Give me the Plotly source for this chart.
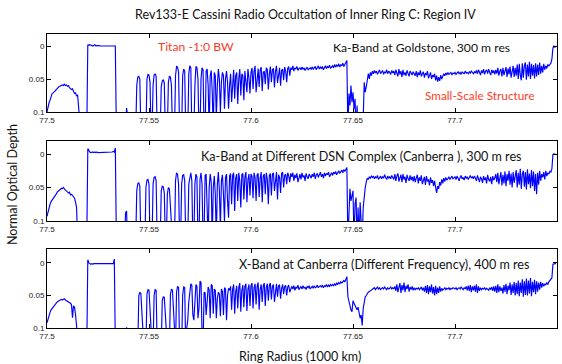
import plotly.graph_objects as go

# ---------------- data (normal optical depth in units of 0.001, sampled every 0.5 km) ----------------
RADIUS_START = 77.5      # 1000 km
RADIUS_STEP = 0.0005     # 1000 km
CLIP = 130               # below the plotted range (signal lost)

tau_ka_goldstone = [
    100, 92, 86, 82, 76, 72, 71, 70, 68, 66, 64, 62, 61, 61, 60, 59, 60, 58, 60, 59,
    61, 60, 63, 64, 66, 65, 70, 72, 71, 76, 74, 130, 130, 130, 130, 130, 130, 130, 130, 130,
    -2, -1, -2, -1, -1, 0, -1, -2, 0, -1, 0, -1, 0, 0, -1, 0, -1, 0, -1, 0,
    0, -1, 0, 0, 0, -1, 0, 0, 130, 130, 130, 130, 130, 130, 130, 130, 130, 130, 94, 130,
    130, 130, 130, 130, 130, 130, 130, 130, 60, 47, 46, 50, 130, 130, 130, 130, 130, 130, 50, 43,
    44, 55, 130, 130, 60, 44, 42, 46, 130, 130, 130, 130, 62, 53, 51, 56, 130, 130, 130, 55,
    46, 47, 60, 130, 130, 130, 45, 31, 32, 40, 130, 130, 130, 45, 35, 38, 130, 130, 130, 42,
    30, 33, 130, 130, 130, 60, 31, 33, 50, 130, 130, 50, 33, 36, 130, 130, 38, 35, 60, 130,
    45, 37, 70, 130, 40, 45, 110, 60, 35, 50, 100, 55, 40, 45, 95, 50, 38, 55, 95, 60,
    42, 85, 48, 36, 80, 45, 40, 88, 50, 35, 75, 42, 45, 82, 38, 60, 70, 35, 48, 72,
    40, 33, 65, 38, 30, 70, 45, 34, 62, 36, 32, 68, 40, 38, 58, 33, 36, 66, 42, 31,
    55, 36, 34, 63, 38, 30, 56, 40, 33, 60, 37, 35, 52, 32, 38, 55, 34, 31, 45, 33,
    36, 30, 38, 33, 35, 31, 37, 34, 33, 36, 32, 35, 33, 37, 34, 32, 36, 34, 33, 35,
    32, 35, 33, 31, 36, 33, 30, 35, 32, 34, 31, 36, 32, 30, 34, 31, 33, 29, 34, 31,
    30, 33, 28, 32, 29, 31, 27, 32, 28, 30, 26, 31, 27, 25, 22, 130, 72, 90, 60, 85,
    70, 95, 80, 130, 90, 130, 130, 100, 130, 130, 110, 55, 70, 62, 48, 42, 50, 40, 45, 38,
    42, 37, 41, 38, 43, 39, 36, 42, 40, 37, 43, 39, 41, 36, 42, 38, 40, 43, 37, 41,
    38, 44, 36, 42, 46, 35, 43, 38, 47, 36, 44, 40, 45, 37, 42, 46, 38, 41, 44, 39,
    42, 45, 38, 47, 40, 44, 37, 46, 42, 39, 48, 41, 44, 38, 49, 43, 40, 50, 44, 47,
    42, 52, 45, 54, 47, 53, 44, 50, 46, 42, 45, 41, 44, 40, 43, 42, 40, 44, 41, 42,
    40, 43, 41, 39, 42, 40, 43, 39, 41, 42, 38, 41, 40, 42, 39, 41, 38, 40, 42, 39,
    41, 37, 42, 36, 40, 44, 37, 41, 35, 43, 38, 36, 42, 35, 40, 44, 36, 41, 37, 43,
    36, 42, 33, 45, 38, 35, 46, 33, 44, 37, 32, 47, 34, 43, 31, 48, 35, 30, 47, 33,
    45, 28, 50, 27, 44, 52, 26, 48, 30, 25, 51, 28, 46, 24, 50, 27, 45, 29, 49, 26,
    46, 28, 44, 25, 42, 30, 40, 27, 36, 30, 34, 28, 30, 27, 26, 20, 3, 0, 2, 0,
]

tau_ka_canberra = [
    93, 86, 80, 75, 71, 69, 66, 64, 62, 60, 57, 56, 54, 53, 51, 52, 50, 53, 54, 55,
    56, 58, 57, 61, 60, 62, 64, 66, 72, 80, 130, 130, 130, 130, 130, 130, 130, 130, 130, 130,
    -8, -4, -3, -2, -3, -3, -2, -3, -2, -3, -2, -2, -3, -2, -3, -2, -3, -2, -2, -3,
    -3, -2, -3, -2, -3, -4, -3, -9, 130, 130, 130, 130, 130, 130, 130, 130, 130, 88, 85, 130,
    130, 130, 130, 130, 130, 130, 130, 130, 55, 44, 43, 48, 130, 130, 130, 130, 130, 50, 39, 38,
    45, 130, 130, 130, 45, 35, 34, 40, 130, 130, 130, 130, 55, 48, 49, 58, 130, 130, 60, 50,
    52, 130, 130, 130, 130, 130, 40, 28, 30, 45, 130, 130, 45, 32, 31, 40, 130, 130, 130, 45,
    35, 28, 40, 130, 130, 45, 30, 34, 130, 130, 38, 28, 45, 130, 120, 32, 30, 70, 130, 50,
    30, 42, 130, 50, 33, 60, 130, 45, 27, 55, 110, 40, 31, 60, 100, 35, 30, 70, 95, 33,
    29, 75, 32, 28, 85, 36, 30, 70, 28, 40, 80, 31, 29, 68, 34, 27, 72, 38, 30, 62,
    30, 33, 66, 28, 35, 70, 31, 29, 64, 36, 27, 72, 33, 30, 60, 28, 38, 75, 32, 29,
    62, 30, 28, 55, 33, 27, 68, 31, 35, 58, 29, 27, 50, 32, 30, 45, 28, 33, 42, 29,
    34, 28, 40, 31, 36, 29, 42, 33, 30, 38, 28, 35, 32, 40, 29, 34, 37, 30, 33, 36,
    30, 34, 28, 37, 31, 29, 35, 32, 27, 34, 30, 36, 28, 33, 29, 31, 27, 34, 30, 28,
    32, 27, 30, 26, 31, 28, 25, 29, 26, 24, 28, 23, 26, 22, 20, 130, 100, 52, 70, 60,
    55, 130, 75, 65, 130, 80, 130, 72, 130, 130, 80, 60, 50, 42, 36, 38, 34, 36, 33, 35,
    33, 37, 34, 36, 32, 38, 35, 33, 37, 34, 36, 31, 35, 38, 33, 36, 34, 37, 32, 35,
    38, 30, 40, 33, 29, 41, 35, 31, 42, 30, 38, 34, 43, 31, 37, 40, 32, 39, 34, 41,
    33, 42, 36, 31, 44, 35, 40, 32, 45, 37, 34, 46, 33, 41, 38, 47, 35, 43, 39, 48,
    40, 50, 58, 48, 52, 42, 47, 38, 44, 36, 41, 35, 39, 37, 34, 38, 36, 33, 37, 35,
    34, 38, 33, 36, 40, 35, 32, 37, 35, 39, 33, 36, 34, 38, 35, 32, 36, 34, 37, 33,
    36, 40, 32, 38, 42, 34, 37, 43, 33, 39, 35, 44, 31, 38, 41, 34, 45, 33, 39, 36,
    30, 42, 28, 45, 33, 27, 47, 31, 44, 26, 48, 30, 40, 25, 46, 29, 50, 27, 43, 32,
    24, 50, 28, 46, 22, 52, 30, 25, 49, 27, 53, 23, 45, 29, 51, 24, 48, 26, 55, 30,
    60, 28, 46, 25, 40, 30, 35, 27, 38, 25, 33, 28, 30, 26, 27, 22, 1, 0, 0, 1,
]

tau_x_canberra = [
    92, 85, 80, 76, 72, 70, 67, 65, 63, 61, 60, 59, 58, 57, 56, 57, 56, 55, 57, 58,
    58, 59, 61, 62, 64, 84, 66, 68, 80, 130, 130, 130, 130, 130, 130, 130, 130, 130, 130, 130,
    -5, 0, 1, 2, 1, 2, 1, 1, 2, 1, 2, 1, 2, 2, 1, 2, 1, 2, 1, 2,
    1, 2, 1, 2, 2, 1, -6, 130, 130, 130, 130, 130, 130, 130, 130, 130, 130, 130, 99, 130,
    130, 130, 130, 130, 130, 130, 130, 130, 130, 130, 50, 45, 47, 130, 130, 130, 130, 130, 48, 41,
    42, 130, 130, 130, 130, 50, 41, 42, 130, 130, 130, 130, 130, 58, 52, 53, 130, 130, 130, 130,
    130, 48, 40, 42, 130, 130, 130, 45, 36, 38, 130, 130, 130, 50, 37, 38, 130, 100, 88, 60,
    40, 32, 34, 80, 88, 45, 33, 36, 85, 70, 28, 30, 110, 130, 45, 46, 80, 60, 37, 42,
    85, 33, 35, 78, 40, 42, 85, 55, 45, 48, 82, 40, 44, 80, 38, 40, 88, 50, 39, 42,
    36, 72, 40, 33, 78, 44, 35, 70, 38, 31, 75, 42, 34, 68, 36, 32, 74, 40, 33, 66,
    35, 31, 70, 38, 32, 64, 36, 30, 72, 40, 33, 60, 35, 31, 66, 37, 32, 58, 34, 31,
    56, 36, 33, 60, 38, 32, 52, 35, 34, 55, 39, 33, 48, 36, 35, 50, 37, 34, 45, 38,
    36, 40, 35, 42, 37, 39, 34, 41, 38, 36, 40, 35, 39, 37, 41, 36, 38, 35, 40, 37,
    36, 39, 35, 38, 37, 34, 38, 36, 35, 37, 34, 38, 35, 36, 33, 37, 34, 36, 33, 35,
    33, 35, 32, 34, 31, 33, 30, 32, 29, 31, 28, 27, 29, 25, 21, 52, 60, 66, 72, 75,
    58, 62, 66, 70, 72, 68, 75, 85, 80, 96, 70, 62, 52, 50, 47, 45, 44, 43, 42, 41,
    40, 38, 41, 39, 37, 40, 38, 41, 39, 38, 40, 37, 39, 41, 38, 40, 39, 37, 40, 38,
    40, 36, 43, 33, 45, 35, 31, 46, 34, 42, 30, 45, 35, 40, 33, 44, 37, 41, 36, 42,
    38, 41, 39, 40, 38, 41, 39, 37, 42, 38, 44, 35, 46, 34, 48, 36, 45, 33, 47, 37,
    50, 35, 48, 38, 46, 36, 44, 39, 42, 40, 38, 41, 39, 40, 38, 41, 39, 40, 38, 39,
    40, 38, 41, 39, 38, 40, 37, 39, 41, 38, 40, 36, 42, 35, 43, 34, 45, 36, 42, 35,
    44, 33, 46, 36, 43, 38, 41, 39, 40, 38, 41, 39, 40, 42, 38, 41, 37, 43, 36, 44,
    35, 46, 33, 45, 36, 43, 38, 47, 34, 44, 32, 48, 35, 42, 30, 49, 33, 46, 29, 50,
    31, 48, 27, 51, 30, 46, 25, 52, 28, 49, 24, 50, 27, 47, 23, 51, 29, 45, 26, 48,
    28, 44, 30, 41, 29, 38, 31, 36, 32, 34, 30, 33, 29, 27, 25, 23, 2, 1, 1, 1,
]

x_tick_vals = [77.5, 77.55, 77.6, 77.65, 77.7, 77.75]
x_tick_text = ["77.5", "77.55", "77.6", "77.65", "77.7", "77.75"]
y_tick_vals = [0, 0.05, 0.1]
y_tick_text = ["0", "0.05", "0.1"]

title_text = "Rev133-E Cassini Radio Occultation of Inner Ring C: Region IV"
panel_labels = [
    "Ka-Band at Goldstone, 300 m res",
    "Ka-Band at Different DSN Complex (Canberra ), 300 m res",
    "X-Band at Canberra (Different Frequency), 400 m res",
]
x_title = "Ring Radius (1000 km)"
y_title = "Normal Optical Depth"

# ---------------- figure ----------------
W, H = 562, 364
TEXT_FONT = "Lato, 'Open Sans', sans-serif"
TICK_FONT = "'Liberation Sans', Arial, sans-serif"


def px_x(p):
    return p / W


def px_y(p):
    return 1 - p / H


series = [tau_ka_goldstone, tau_ka_canberra, tau_x_canberra]
# (top px, bottom px, y-axis top value)
panels = [(34, 112, -0.0182), (141, 221, -0.0194), (249, 328, -0.0215)]

fig = go.Figure()
layout_axes = {}
for k, (vals, (top, bot, ytop)) in enumerate(zip(series, panels), start=1):
    radius = [round(RADIUS_START + RADIUS_STEP * i, 5) for i in range(len(vals))]
    tau = [v / 1000.0 for v in vals]
    sfx = "" if k == 1 else str(k)
    fig.add_trace(go.Scatter(
        x=radius, y=tau, mode="lines",
        line=dict(color="#0000ff", width=1.15),
        xaxis="x" + sfx, yaxis="y" + sfx, showlegend=False, hoverinfo="skip",
    ))
    common = dict(
        ticks="inside", ticklen=4, tickcolor="black", showline=True,
        linecolor="black", linewidth=1, mirror="ticks", showgrid=False,
        zeroline=False, automargin=False,
        tickfont=dict(family=TICK_FONT, size=8, color="#222"),
    )
    layout_axes["xaxis" + sfx] = dict(
        domain=[px_x(47), px_x(557)], range=[77.5, 77.75], anchor="y" + sfx,
        tickvals=x_tick_vals, ticktext=x_tick_text, **common,
    )
    layout_axes["yaxis" + sfx] = dict(
        domain=[px_y(bot), px_y(top)], range=[0.1, ytop], anchor="x" + sfx,
        tickvals=y_tick_vals, ticktext=y_tick_text, **common,
    )

annotations = [
    dict(text=title_text, x=px_x(305), y=px_y(15), font=dict(size=12.5, color="#111")),
    dict(text=panel_labels[0], x=px_x(421), y=px_y(48), font=dict(size=12.2, color="#111")),
    dict(text=panel_labels[1], x=px_x(361), y=px_y(156), font=dict(size=12.6, color="#111")),
    dict(text=panel_labels[2], x=px_x(384), y=px_y(264), font=dict(size=12.6, color="#111")),
    dict(text="Titan -1:0 BW", x=px_x(196), y=px_y(47), font=dict(size=12.2, color="#ff3b1f")),
    dict(text="Small-Scale Structure", x=px_x(480), y=px_y(96), font=dict(size=11.8, color="#ff3b1f")),
    dict(text=x_title, x=px_x(300), y=px_y(356), font=dict(size=12.5, color="#111")),
    dict(text=y_title, x=px_x(12), y=px_y(185), textangle=-90, font=dict(size=12.5, color="#111")),
]
for a in annotations:
    a.update(xref="paper", yref="paper", showarrow=False, xanchor="center", yanchor="middle")
    a["font"]["family"] = TEXT_FONT

fig.update_layout(
    width=W, height=H, margin=dict(l=0, r=0, t=0, b=0, autoexpand=False),
    paper_bgcolor="white", plot_bgcolor="white",
    annotations=annotations, **layout_axes,
)

fig.write_html(
    "out.html",
    config={"displayModeBar": False},
    post_script="document.body.style.margin='0';document.body.style.padding='0';",
)
